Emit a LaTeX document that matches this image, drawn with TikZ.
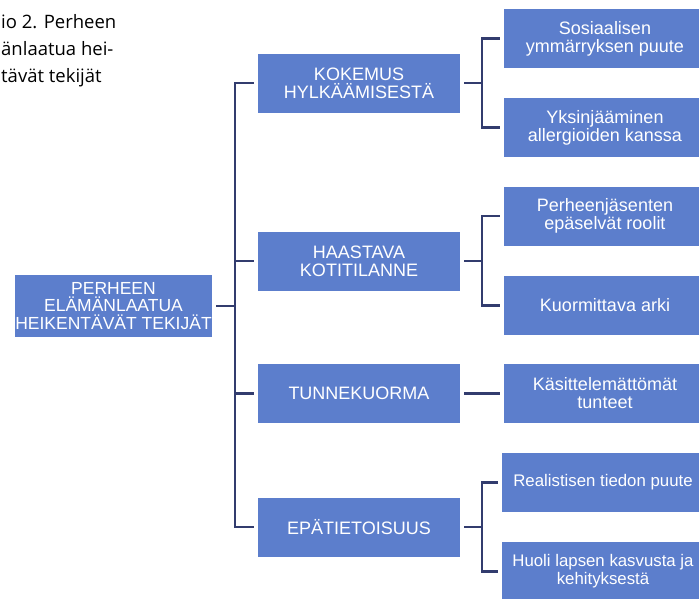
\documentclass[tikz,border=0pt]{standalone}
\usepackage{fontspec}
\setmainfont{Liberation Sans}
\newfontfamily\capfont{Open Sans}
\definecolor{boxblue}{RGB}{92,126,204}
\definecolor{linkblue}{RGB}{50,60,110}
\begin{document}
\begin{tikzpicture}[x=1pt, y=-1pt,
  box/.style={fill=boxblue, text=white, minimum width=202, minimum height=59, inner sep=0, outer sep=4, align=center, font=\fontsize{18}{18}\selectfont},
  small/.style={font=\fontsize{16.8}{18}\selectfont},
  link/.style={draw=linkblue, line width=2.2}]
\useasboundingbox (0,0) rectangle (699,598);
\clip (0,0) rectangle (699,598);
\foreach \t [count=\i] in {io 2. Perheen, änlaatua hei-, tävät tekijät}
\node[anchor=base west, inner sep=0, font=\capfont\fontsize{18.5}{22}\selectfont] (caption\i) at (1, 1+27*\i) {\t};

\node[box, minimum width=197, minimum height=62, font=\fontsize{17.5}{17.5}\selectfont] (root) at (113.5,306) {PERHEEN\\ELÄMÄNLAATUA\\HEIKENTÄVÄT TEKIJÄT};
\node[box] (kokemus) at (359,83) {KOKEMUS\\HYLKÄÄMISESTÄ};
\node[box] (haastava) at (359,261) {HAASTAVA\\KOTITILANNE};
\node[box] (tunne) at (359,393.5) {TUNNEKUORMA};
\node[box] (epatieto) at (359,527) {EPÄTIETOISUUS};
\node[box] (sosiaal) at (605,38.5) {Sosiaalisen\\ymmärryksen puute};
\node[box] (yksin) at (605,127.5) {Yksinjääminen\\allergioiden kanssa};
\node[box] (roolit) at (605,216) {Perheenjäsenten\\epäselvät roolit};
\node[box] (arki) at (605,305.5) {Kuormittava arki};
\node[box] (tunteet) at (605,393.5) {Käsittelemättömät\\tunteet};
\node[box, small] (tieto) at (603,482.5) {Realistisen tiedon puute};
\node[box, small] (huoli) at (603,571.5) {Huoli lapsen kasvusta ja\\kehityksestä};

\foreach \n in {kokemus,haastava,tunne,epatieto}
\draw[link] (root.east) -- ++(19,0) |- (\n.west);
\foreach \a/\b in {kokemus/sosiaal,kokemus/yksin,haastava/roolit,haastava/arki,epatieto/tieto,epatieto/huoli}
\draw[link] (\a.east) -- ++(18,0) |- (\b.west);
\draw[link] (tunne.east) -- (tunteet.west);
\end{tikzpicture}
\end{document}
